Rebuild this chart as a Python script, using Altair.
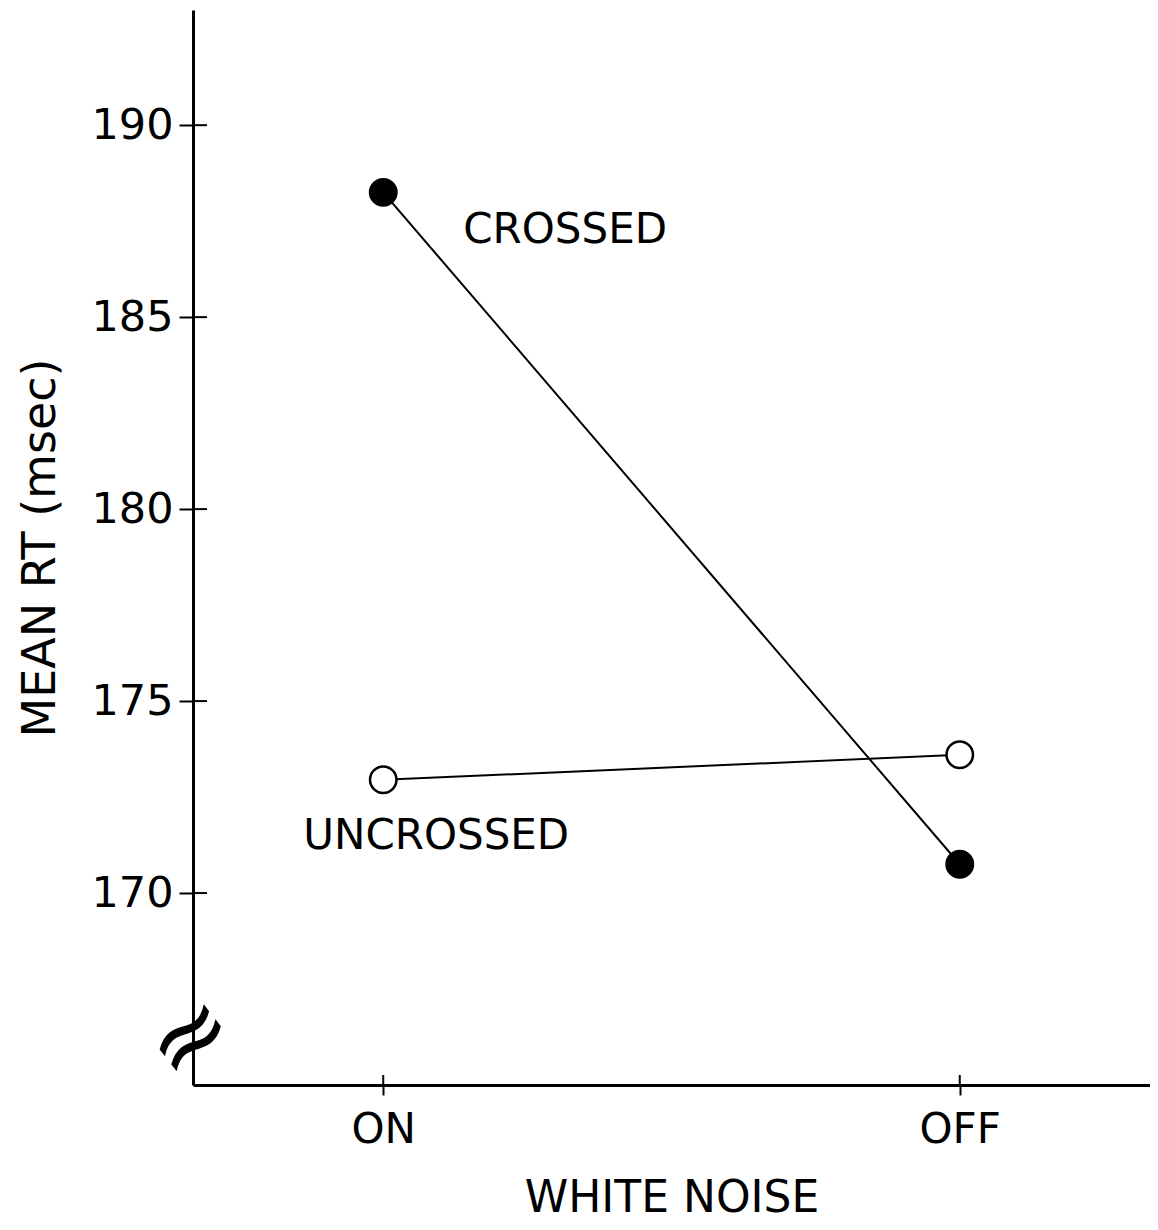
import altair as alt
import pandas as pd

conditions = ["ON", "OFF"]
groups = ["CROSSED", "UNCROSSED"]
crossed = [188.25, 170.75]
uncrossed = [172.95, 173.6]
y_ticks = [170, 175, 180, 185, 190]

rows = []
for c, v in zip(conditions, crossed):
    rows.append({"condition": c, "group": "CROSSED", "rt": v})
for c, v in zip(conditions, uncrossed):
    rows.append({"condition": c, "group": "UNCROSSED", "rt": v})
df = pd.DataFrame(rows)

W, H = 957, 1075
FONT = "DejaVu Sans"

xenc = alt.X(
    "condition:N",
    sort=conditions,
    scale=alt.Scale(type="point", padding=0.33),
    axis=alt.Axis(
        title="WHITE  NOISE", labelAngle=0, labelAlign="center", labelFlush=False,
        tickSize=10, tickWidth=2, domainWidth=3,
        domainColor="black", tickColor="black", labelColor="black", titleColor="black",
        labelFontSize=42, labelFont=FONT, labelFontWeight="normal", labelPadding=34,
        titleFontSize=44, titleFont=FONT, titleFontWeight="normal", titlePadding=26,
        grid=False,
    ),
)
yenc = alt.Y(
    "rt:Q",
    scale=alt.Scale(domain=[165, 193], nice=False, zero=False),
    axis=alt.Axis(
        title="MEAN RT (msec)", values=y_ticks, tickSize=14, tickWidth=2, domainWidth=3,
        domainColor="black", tickColor="black", labelColor="black", titleColor="black",
        labelFontSize=43, labelFont=FONT, labelFontWeight="normal", labelPadding=6,
        titleFontSize=46, titleFont=FONT, titleFontWeight="normal", titlePadding=26,
        grid=False,
    ),
)

base = alt.Chart(df)

lines = base.mark_line(color="black", strokeWidth=2).encode(x=xenc, y=yenc, detail="group:N")

points = base.mark_point(shape="circle", size=700, filled=True, stroke="black",
                         strokeWidth=2.5, opacity=1).encode(
    x=xenc, y=yenc,
    fill=alt.Fill("group:N", scale=alt.Scale(domain=groups, range=["black", "white"]), legend=None),
)

lab_df = pd.DataFrame({"condition": ["ON", "ON"], "group": groups, "rt": [crossed[0], uncrossed[0]]})
lab_c = alt.Chart(lab_df[lab_df.group == "CROSSED"]).mark_text(
    align="left", baseline="middle", dx=80, dy=38, fontSize=42, font=FONT, color="black"
).encode(x=xenc, y=yenc, text="group:N")
lab_u = alt.Chart(lab_df[lab_df.group == "UNCROSSED"]).mark_text(
    align="left", baseline="middle", dx=-80, dy=56, fontSize=42, font=FONT, color="black"
).encode(x=xenc, y=yenc, text="group:N")

tick_df = pd.DataFrame({"v": y_ticks})
y_in = alt.Chart(tick_df).mark_rule(color="black", strokeWidth=2).encode(
    y=alt.Y("v:Q", scale=alt.Scale(domain=[165, 193], nice=False, zero=False)),
    x=alt.value(0), x2=alt.value(14),
)
x_tick_df = pd.DataFrame({"condition": conditions})
x_in = alt.Chart(x_tick_df).mark_rule(color="black", strokeWidth=2).encode(
    x=alt.X("condition:N", sort=conditions, scale=alt.Scale(type="point", padding=0.33)),
    y=alt.value(H - 10), y2=alt.value(H),
)

brk = alt.Chart(pd.DataFrame({"s": ["\u2248"]})).mark_text(
    fontSize=100, font=FONT, color="black", angle=322, baseline="middle", align="center"
).encode(x=alt.value(-2), y=alt.datum(166.2), text="s:N")

chart = alt.layer(y_in, x_in, lines, points, lab_c, lab_u, brk).properties(
    width=W, height=H,
    autosize=alt.AutoSizeParams(type="none"),
    padding={"left": 185, "top": 2, "right": 0, "bottom": 136},
    view=alt.ViewBackground(stroke="transparent", strokeWidth=0),
).configure_view(stroke="transparent", strokeWidth=0).configure(background="white")

chart.save("out.html", embed_options={"renderer": "svg", "actions": False})
